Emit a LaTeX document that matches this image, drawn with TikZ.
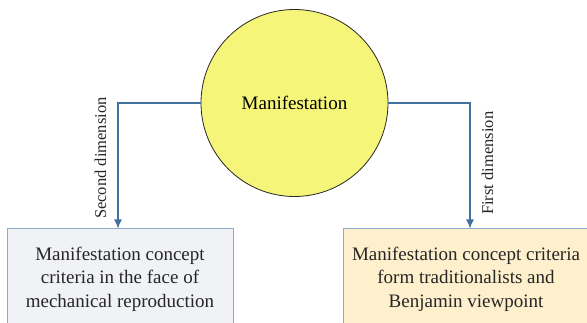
\documentclass[tikz,border=0pt]{standalone}
\usepackage{fontspec}
\setmainfont{Liberation Serif}
\usetikzlibrary{arrows.meta}
\definecolor{linkblue}{RGB}{65,113,156}
\definecolor{edgeblue}{RGB}{141,169,204}
\definecolor{circfill}{RGB}{245,245,122}
\definecolor{greyfill}{RGB}{241,242,245}
\definecolor{sandfill}{RGB}{254,240,204}
\begin{document}
\begin{tikzpicture}[x=1pt,y=-1pt]
    \tikzset{idea/.style={circle,draw=black!85,line width=0.8pt,fill=circfill,minimum
        size=187pt,inner sep=0pt,font=\fontsize{19}{23}\selectfont},
      crit/.style={draw=edgeblue,line width=1pt,minimum height=100pt,
        align=center,font=\fontsize{19}{23.5}\selectfont,text=black!85},
      link/.style={draw=linkblue,line width=1.2pt,-{Latex[length=9pt,width=8pt]}},
      dimlabel/.style={rotate=90,inner sep=11pt,font=\fontsize{16.5}{18}\selectfont,text=black!85}}
    \useasboundingbox (0,0) rectangle (587,323);
    \clip (0,0) rectangle (587,323);
    \node[idea] (m) at (294.5,103) {Manifestation};
    \node[crit,fill=greyfill,minimum width=226pt] (mech) at (120,279)
    {Manifestation concept\\criteria in the face of\\mechanical reproduction};
    \node[crit,fill=sandfill,minimum width=246pt] (trad) at (466,279)
    {Manifestation concept criteria\\form traditionalists and\\Benjamin viewpoint};

    \draw[link] (m.west) -| node[dimlabel,pos=0.72,above] {Second dimension}
    ([xshift=-2pt]mech.north);
    \draw[link] (m.east) -| node[dimlabel,pos=0.74,below] {First dimension}
    ([xshift=4pt]trad.north);
  \end{tikzpicture}
\end{document}
